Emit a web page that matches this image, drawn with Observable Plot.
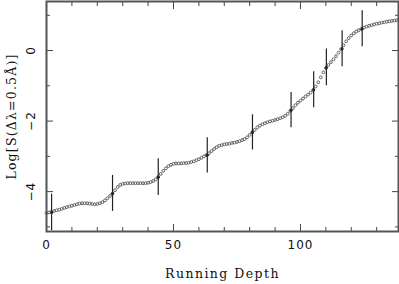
<!DOCTYPE html>
<html><head><meta charset="utf-8">
<script src="https://cdn.jsdelivr.net/npm/d3@7"></script>
<script src="https://cdn.jsdelivr.net/npm/@observablehq/plot@0.6"></script>
<style>body{margin:0;background:#fff} svg{display:block}</style>
</head><body><div id="chart"></div>
<script>
// Curve: log S at each running depth 0..138
const depth = d3.range(0, 139);
const logS = [
  -4.61,-4.59,-4.57,-4.55,-4.53,-4.51,-4.49,-4.46,-4.44,-4.42,
  -4.40,-4.38,-4.36,-4.34,-4.33,-4.33,-4.33,-4.34,-4.35,-4.36,
  -4.35,-4.33,-4.30,-4.25,-4.19,-4.12,-4.05,-3.96,-3.87,-3.81,
  -3.78,-3.77,-3.76,-3.76,-3.76,-3.76,-3.76,-3.76,-3.76,-3.76,
  -3.75,-3.73,-3.70,-3.65,-3.58,-3.50,-3.41,-3.34,-3.28,-3.24,
  -3.21,-3.20,-3.20,-3.20,-3.19,-3.19,-3.18,-3.16,-3.14,-3.11,
  -3.08,-3.04,-3.00,-2.96,-2.91,-2.85,-2.79,-2.74,-2.70,-2.68,
  -2.66,-2.65,-2.64,-2.62,-2.61,-2.59,-2.57,-2.54,-2.51,-2.46,
  -2.39,-2.32,-2.25,-2.18,-2.13,-2.09,-2.06,-2.03,-2.01,-1.99,
  -1.97,-1.95,-1.92,-1.89,-1.85,-1.79,-1.71,-1.63,-1.55,-1.48,
  -1.42,-1.36,-1.30,-1.25,-1.19,-1.12,-1.02,-0.90,-0.76,-0.62,
  -0.50,-0.41,-0.33,-0.25,-0.16,-0.06,0.04,0.15,0.26,0.35,
  0.43,0.49,0.54,0.58,0.61,0.65,0.68,0.70,0.72,0.74,
  0.76,0.77,0.79,0.80,0.82,0.83,0.84,0.85,0.86
];
// Error bars
const barDepth = [2, 26, 44, 63.3, 81.1, 96.3, 105.2, 110.2, 116.4, 124.3];
const barLog   = [-4.59, -4.05, -3.59, -2.97, -2.32, -1.69, -1.11, -0.48, 0.05, 0.62];
const barErr   = [0.52, 0.51, 0.52, 0.5, 0.5, 0.5, 0.51, 0.52, 0.51, 0.51];
// Ticks
const xMajor = [0, 50, 100];
const xMinor = [10, 20, 30, 40, 60, 70, 80, 90, 110, 120, 130];
const yMajor = [-4, -2, 0];
const yMinor = [-5, -3, -1, 1];
const xDomain = [0, 138.6];
const yDomain = [-5.13, 1.39];
const xLabel = "Running Depth";
const yLabel = "Log[S(\u0394\u03bb=0.5\u00c5)]";

const curve = depth.map((d, i) => ({x: d, y: logS[i]}));
const bars = barDepth.map((d, i) => ({x: d, y: barLog[i], lo: barLog[i] - barErr[i], hi: barLog[i] + barErr[i]}));
const yMid = (yDomain[0] + yDomain[1]) / 2;

const tickCol = "#444";
const serif = "'DejaVu Serif', serif";
const sans = "'DejaVu Sans', sans-serif";
const fmt = d => (d < 0 ? "\u2212" + Math.abs(d) : String(d));

function ticks(anchor, values, size) {
  const o = {anchor, ticks: values, tickSize: -size, tickFormat: () => "", label: null, stroke: tickCol, strokeWidth: 1};
  return anchor === "bottom" || anchor === "top" ? Plot.axisX(o) : Plot.axisY(o);
}

const chart = Plot.plot({
  width: 399, height: 284,
  marginLeft: 46, marginRight: 1, marginTop: 1, marginBottom: 53,
  x: {domain: xDomain},
  y: {domain: yDomain},
  marks: [
    ticks("bottom", xMajor, 7), ticks("bottom", xMinor, 4),
    ticks("top", xMajor, 7), ticks("top", xMinor, 4),
    ticks("left", yMajor, 7), ticks("left", yMinor, 4),
    ticks("right", yMajor, 7), ticks("right", yMinor, 4),
    Plot.dot(curve, {x: "x", y: "y", r: 1.4, stroke: "#555", strokeWidth: 0.9, fill: "none"}),
    Plot.ruleX(bars, {x: "x", y1: "lo", y2: "hi", stroke: "#222", strokeWidth: 1.2}),
    Plot.dot(bars, {x: "x", y: "y", r: 1.5, fill: "#222"}),
    Plot.frame({stroke: "#555", strokeWidth: 2}),
    Plot.text(xMajor, {x: d => d, frameAnchor: "bottom", dy: 14, text: fmt, textAnchor: "middle", lineAnchor: "middle", fontSize: 12, fontFamily: sans, fill: "#111"}),
    Plot.text(yMajor, {y: d => d, frameAnchor: "left", dx: -15, rotate: -90, text: fmt, textAnchor: "middle", lineAnchor: "middle", fontSize: 12, fontFamily: sans, fill: "#111"}),
    Plot.text([xLabel], {frameAnchor: "bottom", dy: 42, text: d => d, textAnchor: "middle", lineAnchor: "middle", fontSize: 12.5, fontFamily: serif, fill: "#111"}),
    Plot.text([yLabel], {y: () => yMid, frameAnchor: "left", dx: -35, rotate: -90, text: d => d, textAnchor: "middle", lineAnchor: "middle", fontSize: 12.5, fontFamily: serif, fill: "#111"})
  ]
});
chart.querySelectorAll("text").forEach(t => {
  if (t.textContent === xLabel) t.setAttribute("letter-spacing", "1.45");
  if (t.textContent === yLabel) t.setAttribute("letter-spacing", "1.2");
  if (/^[\u22120-9]+$/.test(t.textContent)) t.setAttribute("letter-spacing", "1");
});
document.getElementById("chart").appendChild(chart);
</script>
</body></html>
